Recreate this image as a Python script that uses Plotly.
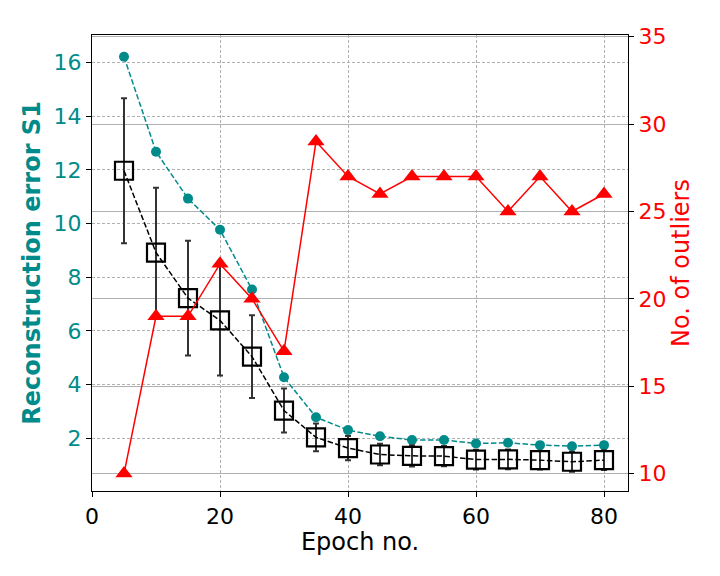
# Reconstruction error and number of outliers per epoch, twin y axes
import plotly.graph_objects as go

epochs = [5, 10, 15, 20, 25, 30, 35, 40, 45, 50, 55, 60, 65, 70, 75, 80]
recon_s1 = [16.22, 12.68, 10.93, 9.77, 7.54, 4.27, 2.78, 2.30, 2.07, 1.93, 1.93, 1.80, 1.83, 1.74, 1.70, 1.74]
recon_mean = [11.97, 8.92, 7.22, 6.39, 5.04, 3.03, 2.03, 1.63, 1.39, 1.34, 1.33, 1.20, 1.21, 1.18, 1.12, 1.18]
recon_std = [2.70, 2.42, 2.14, 2.05, 1.54, 0.82, 0.52, 0.45, 0.40, 0.40, 0.38, 0.37, 0.37, 0.35, 0.37, 0.37]
outliers = [10, 19, 19, 22, 20, 17, 29, 27, 26, 27, 27, 27, 25, 27, 25, 26]

teal = "#008b8b"
font = "DejaVu Sans"
grid = "#b0b0b0"

fig = go.Figure()

fig.add_trace(go.Scatter(
    x=epochs, y=recon_s1, mode="lines+markers",
    line=dict(color=teal, width=1.5, dash="5.5px,2.4px"),
    marker=dict(symbol="circle", size=10, color=teal),
    yaxis="y", showlegend=False))

fig.add_trace(go.Scatter(
    x=epochs, y=recon_mean, mode="lines+markers",
    line=dict(color="black", width=1.5, dash="5.5px,2.4px"),
    marker=dict(symbol="square-open", size=18, color="black", line=dict(width=2.2)),
    error_y=dict(type="data", array=recon_std, color="#333333", thickness=2, width=3),
    yaxis="y", showlegend=False))

fig.add_trace(go.Scatter(
    x=epochs, y=outliers, mode="lines+markers",
    line=dict(color="red", width=1.5),
    marker=dict(symbol="triangle-up", size=15, color="red"),
    yaxis="y2", showlegend=False))

# page body has an 8px margin, so the figure is 16px smaller than the window
fig.update_layout(
    width=704, height=560,
    margin=dict(l=84, r=84, t=27, b=77),
    plot_bgcolor="white", paper_bgcolor="white",
    font=dict(family=font, size=22, color="black"),
    xaxis=dict(
        range=[0, 83.75], tickvals=[0, 20, 40, 60, 80],
        ticks="outside", ticklen=5, tickcolor="black",
        tickfont=dict(size=22, color="black"),
        showline=True, linecolor="black", linewidth=1.2, mirror=True,
        showgrid=True, gridcolor=grid, griddash="3px,2px", gridwidth=0.8,
        zeroline=False,
        title=dict(text="Epoch no.", font=dict(size=24, color="black"), standoff=5),
    ),
    yaxis=dict(
        range=[0.03, 17.03], tickvals=[2, 4, 6, 8, 10, 12, 14, 16],
        ticks="outside", ticklen=5, tickcolor="black",
        tickfont=dict(color=teal, size=22),
        showline=True, linecolor="black", linewidth=1.2,
        showgrid=True, gridcolor=grid, griddash="3px,2px", gridwidth=0.8,
        zeroline=False,
        title=dict(text="<b>Reconstruction error S1</b>", font=dict(color=teal, size=24), standoff=6),
    ),
    yaxis2=dict(
        overlaying="y", side="right",
        range=[9.0, 35.1], tickvals=[10, 15, 20, 25, 30, 35],
        ticks="outside", ticklen=5, tickcolor="black",
        tickfont=dict(color="red", size=22),
        showline=True, linecolor="black", linewidth=1.2,
        showgrid=True, gridcolor=grid, gridwidth=1,
        zeroline=False,
        title=dict(text="No. of outliers", font=dict(color="red", size=24), standoff=4),
    ),
)

fig.write_html("out.html")
